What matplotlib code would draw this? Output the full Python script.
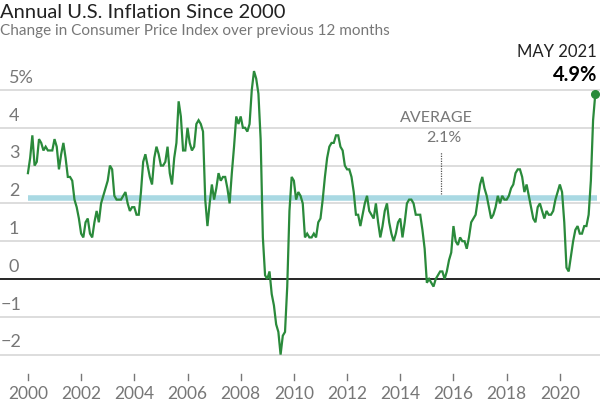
import matplotlib
matplotlib.use("Agg")
import matplotlib.pyplot as plt
import numpy as np

# Monthly 12-month % change in CPI, Jan 2000 - May 2021
cpi_2000 = [2.8, 3.2, 3.8, 3.0, 3.1, 3.7, 3.6, 3.4, 3.5, 3.4, 3.4, 3.4]
cpi_2001 = [3.7, 3.5, 2.9, 3.3, 3.6, 3.2, 2.7, 2.7, 2.6, 2.1, 1.9, 1.6]
cpi_2002 = [1.2, 1.1, 1.5, 1.6, 1.2, 1.1, 1.5, 1.8, 1.5, 2.0, 2.2, 2.4]
cpi_2003 = [2.6, 3.0, 2.9, 2.2, 2.1, 2.1, 2.1, 2.2, 2.3, 2.0, 1.8, 1.9]
cpi_2004 = [1.9, 1.7, 1.7, 2.3, 3.1, 3.3, 3.0, 2.7, 2.5, 3.2, 3.5, 3.3]
cpi_2005 = [3.0, 3.0, 3.1, 3.5, 2.8, 2.5, 3.2, 3.6, 4.7, 4.3, 3.4, 3.4]
cpi_2006 = [4.0, 3.6, 3.4, 3.5, 4.1, 4.2, 4.1, 3.9, 2.1, 1.4, 2.0, 2.5]
cpi_2007 = [2.1, 2.4, 2.8, 2.6, 2.7, 2.7, 2.4, 2.0, 2.8, 3.5, 4.3, 4.1]
cpi_2008 = [4.3, 4.0, 4.0, 3.9, 4.1, 5.0, 5.5, 5.3, 4.9, 3.7, 1.1, 0.1]
cpi_2009 = [0.0, 0.2, -0.4, -0.7, -1.2, -1.4, -2.0, -1.5, -1.4, -0.2, 1.8, 2.7]
cpi_2010 = [2.6, 2.1, 2.3, 2.2, 2.0, 1.1, 1.2, 1.1, 1.1, 1.2, 1.1, 1.5]
cpi_2011 = [1.6, 2.1, 2.7, 3.2, 3.5, 3.6, 3.6, 3.8, 3.8, 3.5, 3.4, 3.0]
cpi_2012 = [2.9, 2.9, 2.7, 2.3, 1.7, 1.7, 1.4, 1.7, 2.0, 2.2, 1.8, 1.7]
cpi_2013 = [1.6, 2.0, 1.5, 1.1, 1.4, 1.8, 2.0, 1.5, 1.2, 1.0, 1.2, 1.5]
cpi_2014 = [1.6, 1.1, 1.5, 2.0, 2.1, 2.1, 2.0, 1.7, 1.7, 1.7, 1.3, 0.8]
cpi_2015 = [-0.1, 0.0, -0.1, -0.2, 0.0, 0.1, 0.2, 0.2, 0.0, 0.2, 0.5, 0.7]
cpi_2016 = [1.4, 1.0, 0.9, 1.1, 1.0, 1.0, 0.8, 1.1, 1.5, 1.6, 1.7, 2.1]
cpi_2017 = [2.5, 2.7, 2.4, 2.2, 1.9, 1.6, 1.7, 1.9, 2.2, 2.0, 2.2, 2.1]
cpi_2018 = [2.1, 2.2, 2.4, 2.5, 2.8, 2.9, 2.9, 2.7, 2.3, 2.5, 2.2, 1.9]
cpi_2019 = [1.6, 1.5, 1.9, 2.0, 1.8, 1.6, 1.8, 1.7, 1.7, 1.8, 2.1, 2.3]
cpi_2020 = [2.5, 2.3, 1.5, 0.3, 0.2, 0.6, 1.0, 1.3, 1.4, 1.2, 1.2, 1.4]
cpi_2021 = [1.4, 1.7, 2.6, 4.2, 4.9]

values = (cpi_2000 + cpi_2001 + cpi_2002 + cpi_2003 + cpi_2004 + cpi_2005 +
          cpi_2006 + cpi_2007 + cpi_2008 + cpi_2009 + cpi_2010 + cpi_2011 +
          cpi_2012 + cpi_2013 + cpi_2014 + cpi_2015 + cpi_2016 + cpi_2017 +
          cpi_2018 + cpi_2019 + cpi_2020 + cpi_2021)
start_year = 2000
average = 2.1
y_ticks = [5, 4, 3, 2, 1, 0, -1, -2]
y_labels = ["5%", "4", "3", "2", "1", "0", "\u22121", "\u22122"]
x_ticks = [2000, 2002, 2004, 2006, 2008, 2010, 2012, 2014, 2016, 2018, 2020]

t = start_year + np.arange(len(values)) / 12.0

FONT = "Lato"
GRAY = "#777777"
GREEN = "#2a8a3b"

fig = plt.figure(figsize=(6.0, 4.03), dpi=100)
ax = fig.add_axes([0, 0, 1, 1])
ax.set_xlim(1998.95, 2021.51)
ax.set_ylim(-3.28, 7.38)
ax.axis("off")

for v in y_ticks:
    if v == 0:
        ax.axhline(v, color="black", lw=1.2, zorder=2)
    else:
        ax.axhline(v, color="#dddddd", lw=1.4, zorder=1)

ax.plot([2000, 2021.4], [average + 0.03, average + 0.03], color="#a9d9e3",
        lw=4.0, solid_capstyle="butt", zorder=3)

ax.plot(t, values, color=GREEN, lw=1.6, zorder=5, solid_joinstyle="miter")
ax.plot([t[-1]], [values[-1]], "o", color=GREEN, ms=5.5, zorder=6)

# y labels
for v, lab in zip(y_ticks, y_labels):
    xoff = 9 if v >= 0 else 1
    ax.annotate(lab, xy=(0, v), xycoords=("axes fraction", "data"),
                xytext=(xoff * 0.72, 3.0), textcoords="offset points",
                ha="left", va="bottom", fontsize=13, color=GRAY, family=FONT)

# x ticks and labels
for yr in x_ticks:
    ax.plot([yr, yr], [-2.5, -2.66], color=GRAY, lw=1.0, clip_on=False)
    ax.text(yr, -3.05, str(yr), ha="center", va="center", fontsize=12.5,
            color=GRAY, family=FONT)

# average annotation
ax.text(2015.36, 4.27, "AVERAGE", ha="center", va="center", fontsize=11.5,
        color=GRAY, family=FONT)
ax.text(2015.62, 3.72, "2.1%", ha="center", va="center", fontsize=11.5,
        color=GRAY, family=FONT)
ax.plot([2015.55, 2015.55], [2.25, 3.35], color="#555555", lw=0.9,
        linestyle=(0, (1, 1)), zorder=4)

# end annotation
fig.text(597 / 600, 1 - 52 / 403, "MAY 2021", ha="right", va="center",
         fontsize=12, color="#222222", family=FONT)
fig.text(597 / 600, 1 - 75 / 403, "4.9%", ha="right", va="center",
         fontsize=14.5, color="black", family=FONT, weight="bold")

# titles
fig.text(0.0, 1 - 12 / 403, "Annual U.S. Inflation Since 2000", ha="left",
         va="center", fontsize=14.5, color="#222222", family=FONT)
fig.text(0.0, 1 - 31 / 403, "Change in Consumer Price Index over previous 12 months",
         ha="left", va="center", fontsize=11, color=GRAY, family=FONT)

fig.savefig("out.png", dpi=100)
